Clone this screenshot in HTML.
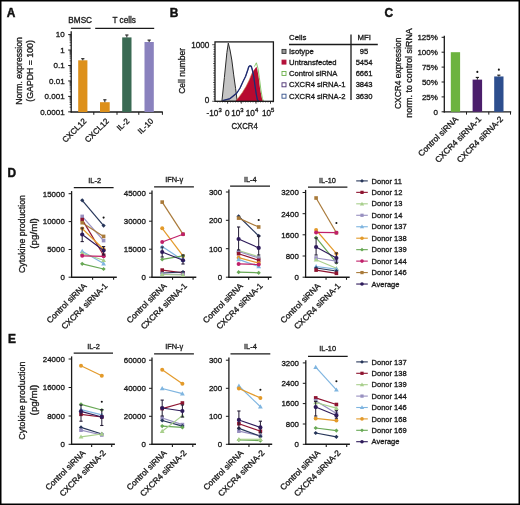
<!DOCTYPE html>
<html><head><meta charset="utf-8"><style>
html,body{margin:0;padding:0;background:#fff;}
body{width:520px;height:505px;overflow:hidden;}
svg{display:block;will-change:transform;}
svg text{font-family:"Liberation Sans",sans-serif;}
</style></head><body>
<svg width="520" height="505" viewBox="0 0 520 505">
<rect x="0" y="0" width="520" height="505" fill="#fff"/>
<text x="6.8" y="17" font-size="11.9" font-weight="bold" fill="#111" stroke="#111" stroke-width="0.45">A</text>
<text x="169.8" y="17" font-size="11.9" font-weight="bold" fill="#111" stroke="#111" stroke-width="0.45">B</text>
<text x="384.5" y="17.1" font-size="11.9" font-weight="bold" fill="#111" stroke="#111" stroke-width="0.45">C</text>
<text x="7.5" y="177" font-size="11.9" font-weight="bold" fill="#111" stroke="#111" stroke-width="0.45">D</text>
<text x="7.9" y="343" font-size="11.9" font-weight="bold" fill="#111" stroke="#111" stroke-width="0.45">E</text>
<line x1="71.2" y1="31.2" x2="71.2" y2="112.6" stroke="#1a1a1a" stroke-width="1.3"/>
<line x1="70.6" y1="112" x2="162.8" y2="112" stroke="#1a1a1a" stroke-width="1.3"/>
<line x1="68.2" y1="34.6" x2="71.2" y2="34.6" stroke="#1a1a1a" stroke-width="1"/>
<line x1="69.6" y1="45.4" x2="71.2" y2="45.4" stroke="#1a1a1a" stroke-width="0.7"/>
<line x1="69.6" y1="42.68" x2="71.2" y2="42.68" stroke="#1a1a1a" stroke-width="0.7"/>
<line x1="69.6" y1="40.75" x2="71.2" y2="40.75" stroke="#1a1a1a" stroke-width="0.7"/>
<line x1="69.6" y1="39.25" x2="71.2" y2="39.25" stroke="#1a1a1a" stroke-width="0.7"/>
<line x1="69.6" y1="38.03" x2="71.2" y2="38.03" stroke="#1a1a1a" stroke-width="0.7"/>
<line x1="69.6" y1="36.99" x2="71.2" y2="36.99" stroke="#1a1a1a" stroke-width="0.7"/>
<line x1="69.6" y1="36.1" x2="71.2" y2="36.1" stroke="#1a1a1a" stroke-width="0.7"/>
<line x1="69.6" y1="35.31" x2="71.2" y2="35.31" stroke="#1a1a1a" stroke-width="0.7"/>
<line x1="68.2" y1="50.05" x2="71.2" y2="50.05" stroke="#1a1a1a" stroke-width="1"/>
<line x1="69.6" y1="60.85" x2="71.2" y2="60.85" stroke="#1a1a1a" stroke-width="0.7"/>
<line x1="69.6" y1="58.13" x2="71.2" y2="58.13" stroke="#1a1a1a" stroke-width="0.7"/>
<line x1="69.6" y1="56.2" x2="71.2" y2="56.2" stroke="#1a1a1a" stroke-width="0.7"/>
<line x1="69.6" y1="54.7" x2="71.2" y2="54.7" stroke="#1a1a1a" stroke-width="0.7"/>
<line x1="69.6" y1="53.48" x2="71.2" y2="53.48" stroke="#1a1a1a" stroke-width="0.7"/>
<line x1="69.6" y1="52.44" x2="71.2" y2="52.44" stroke="#1a1a1a" stroke-width="0.7"/>
<line x1="69.6" y1="51.55" x2="71.2" y2="51.55" stroke="#1a1a1a" stroke-width="0.7"/>
<line x1="69.6" y1="50.76" x2="71.2" y2="50.76" stroke="#1a1a1a" stroke-width="0.7"/>
<line x1="68.2" y1="65.5" x2="71.2" y2="65.5" stroke="#1a1a1a" stroke-width="1"/>
<line x1="69.6" y1="76.3" x2="71.2" y2="76.3" stroke="#1a1a1a" stroke-width="0.7"/>
<line x1="69.6" y1="73.58" x2="71.2" y2="73.58" stroke="#1a1a1a" stroke-width="0.7"/>
<line x1="69.6" y1="71.65" x2="71.2" y2="71.65" stroke="#1a1a1a" stroke-width="0.7"/>
<line x1="69.6" y1="70.15" x2="71.2" y2="70.15" stroke="#1a1a1a" stroke-width="0.7"/>
<line x1="69.6" y1="68.93" x2="71.2" y2="68.93" stroke="#1a1a1a" stroke-width="0.7"/>
<line x1="69.6" y1="67.89" x2="71.2" y2="67.89" stroke="#1a1a1a" stroke-width="0.7"/>
<line x1="69.6" y1="67" x2="71.2" y2="67" stroke="#1a1a1a" stroke-width="0.7"/>
<line x1="69.6" y1="66.21" x2="71.2" y2="66.21" stroke="#1a1a1a" stroke-width="0.7"/>
<line x1="68.2" y1="80.95" x2="71.2" y2="80.95" stroke="#1a1a1a" stroke-width="1"/>
<line x1="69.6" y1="91.75" x2="71.2" y2="91.75" stroke="#1a1a1a" stroke-width="0.7"/>
<line x1="69.6" y1="89.03" x2="71.2" y2="89.03" stroke="#1a1a1a" stroke-width="0.7"/>
<line x1="69.6" y1="87.1" x2="71.2" y2="87.1" stroke="#1a1a1a" stroke-width="0.7"/>
<line x1="69.6" y1="85.6" x2="71.2" y2="85.6" stroke="#1a1a1a" stroke-width="0.7"/>
<line x1="69.6" y1="84.38" x2="71.2" y2="84.38" stroke="#1a1a1a" stroke-width="0.7"/>
<line x1="69.6" y1="83.34" x2="71.2" y2="83.34" stroke="#1a1a1a" stroke-width="0.7"/>
<line x1="69.6" y1="82.45" x2="71.2" y2="82.45" stroke="#1a1a1a" stroke-width="0.7"/>
<line x1="69.6" y1="81.66" x2="71.2" y2="81.66" stroke="#1a1a1a" stroke-width="0.7"/>
<line x1="68.2" y1="96.4" x2="71.2" y2="96.4" stroke="#1a1a1a" stroke-width="1"/>
<line x1="69.6" y1="107.2" x2="71.2" y2="107.2" stroke="#1a1a1a" stroke-width="0.7"/>
<line x1="69.6" y1="104.48" x2="71.2" y2="104.48" stroke="#1a1a1a" stroke-width="0.7"/>
<line x1="69.6" y1="102.55" x2="71.2" y2="102.55" stroke="#1a1a1a" stroke-width="0.7"/>
<line x1="69.6" y1="101.05" x2="71.2" y2="101.05" stroke="#1a1a1a" stroke-width="0.7"/>
<line x1="69.6" y1="99.83" x2="71.2" y2="99.83" stroke="#1a1a1a" stroke-width="0.7"/>
<line x1="69.6" y1="98.79" x2="71.2" y2="98.79" stroke="#1a1a1a" stroke-width="0.7"/>
<line x1="69.6" y1="97.9" x2="71.2" y2="97.9" stroke="#1a1a1a" stroke-width="0.7"/>
<line x1="69.6" y1="97.11" x2="71.2" y2="97.11" stroke="#1a1a1a" stroke-width="0.7"/>
<line x1="68.2" y1="111.85" x2="71.2" y2="111.85" stroke="#1a1a1a" stroke-width="1"/>
<text x="64.6" y="37.4" font-size="8.0" text-anchor="end" fill="#1a1a1a" stroke="#1a1a1a" stroke-width="0.32">10</text>
<text x="64.6" y="52.85" font-size="8.0" text-anchor="end" fill="#1a1a1a" stroke="#1a1a1a" stroke-width="0.32">1</text>
<text x="64.6" y="68.3" font-size="8.0" text-anchor="end" fill="#1a1a1a" stroke="#1a1a1a" stroke-width="0.32">0.1</text>
<text x="64.6" y="83.75" font-size="8.0" text-anchor="end" fill="#1a1a1a" stroke="#1a1a1a" stroke-width="0.32">0.01</text>
<text x="64.6" y="99.2" font-size="8.0" text-anchor="end" fill="#1a1a1a" stroke="#1a1a1a" stroke-width="0.32">0.001</text>
<text x="64.6" y="114.65" font-size="8.0" text-anchor="end" fill="#1a1a1a" stroke="#1a1a1a" stroke-width="0.32">0.0001</text>
<line x1="93.8" y1="112" x2="93.8" y2="114.8" stroke="#1a1a1a" stroke-width="1"/>
<line x1="117" y1="112" x2="117" y2="114.8" stroke="#1a1a1a" stroke-width="1"/>
<line x1="138.8" y1="112" x2="138.8" y2="114.8" stroke="#1a1a1a" stroke-width="1"/>
<line x1="162.4" y1="112" x2="162.4" y2="114.8" stroke="#1a1a1a" stroke-width="1"/>
<rect x="78.2" y="60.3" width="9.2" height="51.7" fill="#DD901A"/>
<line x1="82.8" y1="60.3" x2="82.8" y2="58.7" stroke="#1a1a1a" stroke-width="1"/>
<line x1="81.2" y1="58.7" x2="84.4" y2="58.7" stroke="#1a1a1a" stroke-width="1.1"/>
<rect x="100" y="102.2" width="9.7" height="9.8" fill="#DD901A"/>
<line x1="104.85" y1="102.2" x2="104.85" y2="99.8" stroke="#1a1a1a" stroke-width="1"/>
<line x1="103.25" y1="99.8" x2="106.45" y2="99.8" stroke="#1a1a1a" stroke-width="1.1"/>
<rect x="122.2" y="37.4" width="9.3" height="74.6" fill="#3A6A53"/>
<line x1="126.85" y1="37.4" x2="126.85" y2="35" stroke="#1a1a1a" stroke-width="1"/>
<line x1="125.25" y1="35" x2="128.45" y2="35" stroke="#1a1a1a" stroke-width="1.1"/>
<rect x="144.5" y="42" width="9.3" height="70" fill="#8A82BE"/>
<line x1="149.15" y1="42" x2="149.15" y2="40.1" stroke="#1a1a1a" stroke-width="1"/>
<line x1="147.55" y1="40.1" x2="150.75" y2="40.1" stroke="#1a1a1a" stroke-width="1.1"/>
<text x="80.2" y="23.3" font-size="8.2" text-anchor="middle" fill="#1a1a1a" stroke="#1a1a1a" stroke-width="0.32">BMSC</text>
<text x="124.2" y="23.3" font-size="8.2" text-anchor="middle" fill="#1a1a1a" stroke="#1a1a1a" stroke-width="0.32">T cells</text>
<line x1="70.9" y1="28.3" x2="90.6" y2="28.3" stroke="#1a1a1a" stroke-width="1.2"/>
<line x1="95.2" y1="28.3" x2="154.2" y2="28.3" stroke="#1a1a1a" stroke-width="1.2"/>
<text transform="translate(87,121.6) rotate(-45)" font-size="8.0" text-anchor="end" fill="#1a1a1a" stroke="#1a1a1a" stroke-width="0.32">CXCL12</text>
<text transform="translate(109.5,121.6) rotate(-45)" font-size="8.0" text-anchor="end" fill="#1a1a1a" stroke="#1a1a1a" stroke-width="0.32">CXCL12</text>
<text transform="translate(129.8,121.6) rotate(-45)" font-size="8.0" text-anchor="end" fill="#1a1a1a" stroke="#1a1a1a" stroke-width="0.32">IL-2</text>
<text transform="translate(154,121.6) rotate(-45)" font-size="8.0" text-anchor="end" fill="#1a1a1a" stroke="#1a1a1a" stroke-width="0.32">IL-10</text>
<text transform="translate(22.2,70.9) rotate(-90)" font-size="8.9" text-anchor="middle" fill="#1a1a1a" stroke="#1a1a1a" stroke-width="0.32" textLength="67.5" lengthAdjust="spacingAndGlyphs">Norm. expression</text>
<text transform="translate(33.4,70.9) rotate(-90)" font-size="8.9" text-anchor="middle" fill="#1a1a1a" stroke="#1a1a1a" stroke-width="0.32" textLength="61.5" lengthAdjust="spacingAndGlyphs">(GAPDH = 100)</text>
<path d="M221.9 101.3 L224.4 77.4 L226.9 52.5 L228.3 43.1 L230 50 L231.8 60 L233.7 74.9 L235.6 88.6 L237.2 101.3 Z" fill="#C4C4C4" stroke="#2a2a2a" stroke-width="1.0" stroke-linejoin="round"/>
<path d="M235.4 101.3 L238.7 97.4 L242.4 92.4 L246.2 86.2 L249.3 79.9 L251.8 73.7 L253.7 70.6 L255.5 68.1 L256.5 66.8 L257.4 69.9 L258.7 77.4 L259.9 87.4 L261.2 94.9 L262.4 99.9 L263 101.3 Z" fill="#B70A30"/>
<path d="M236.5 100 L238.7 97.4 L242.4 92.4 L246.2 86.2 L249.3 79.9 L251.8 73.7 L253.7 70.6" fill="none" stroke="#C8743A" stroke-width="0.8" opacity="0.75"/>
<path d="M254.4 66.6 L255.6 64.2 L256.4 62.8 L258 68.7 L259.3 77.4 L260.9 89.9 L262.4 98.6 L263.6 101.3" fill="none" stroke="#7CC05A" stroke-width="0.9" stroke-linejoin="round"/>
<path d="M222.5 100.8 L230 98.9 L233.7 96 L236.8 93.4 L240 88.4 L243.1 81.6 L245.6 76.6 L247.7 70.6 L248.7 67.4 L249.9 66.4 L251.4 67 L252.4 70.4 L253.7 76.6 L254.9 85.3 L256.2 94 L257.4 100.2 L258.7 101.3" fill="none" stroke="#4A3580" stroke-width="0.8" stroke-linejoin="round"/>
<path d="M222.5 100.5 L230 98.6 L233.7 95.5 L236.8 93 L240 88 L243.1 81.2 L245.6 76.2 L247.7 70 L248.7 66.8 L249.9 65.6 L251.4 66.4 L252.4 70 L253.7 76.2 L254.9 84.9 L256.2 93.6 L257.4 99.9 L258.7 101.1" fill="none" stroke="#1C2C70" stroke-width="1.25" stroke-linejoin="round"/>
<rect x="215.0" y="41.9" width="58.4" height="59.4" fill="none" stroke="#1a1a1a" stroke-width="1.3"/>
<line x1="212.2" y1="101.3" x2="215" y2="101.3" stroke="#1a1a1a" stroke-width="0.7"/>
<line x1="213.5" y1="98.94" x2="215" y2="98.94" stroke="#1a1a1a" stroke-width="0.7"/>
<line x1="213.5" y1="96.58" x2="215" y2="96.58" stroke="#1a1a1a" stroke-width="0.7"/>
<line x1="213.5" y1="94.22" x2="215" y2="94.22" stroke="#1a1a1a" stroke-width="0.7"/>
<line x1="213" y1="91.87" x2="215" y2="91.87" stroke="#1a1a1a" stroke-width="0.7"/>
<line x1="213.5" y1="89.51" x2="215" y2="89.51" stroke="#1a1a1a" stroke-width="0.7"/>
<line x1="213.5" y1="87.15" x2="215" y2="87.15" stroke="#1a1a1a" stroke-width="0.7"/>
<line x1="213.5" y1="84.79" x2="215" y2="84.79" stroke="#1a1a1a" stroke-width="0.7"/>
<line x1="213" y1="82.43" x2="215" y2="82.43" stroke="#1a1a1a" stroke-width="0.7"/>
<line x1="213.5" y1="80.07" x2="215" y2="80.07" stroke="#1a1a1a" stroke-width="0.7"/>
<line x1="213.5" y1="77.72" x2="215" y2="77.72" stroke="#1a1a1a" stroke-width="0.7"/>
<line x1="213.5" y1="75.36" x2="215" y2="75.36" stroke="#1a1a1a" stroke-width="0.7"/>
<line x1="213" y1="73" x2="215" y2="73" stroke="#1a1a1a" stroke-width="0.7"/>
<line x1="213.5" y1="70.64" x2="215" y2="70.64" stroke="#1a1a1a" stroke-width="0.7"/>
<line x1="213.5" y1="68.28" x2="215" y2="68.28" stroke="#1a1a1a" stroke-width="0.7"/>
<line x1="213.5" y1="65.92" x2="215" y2="65.92" stroke="#1a1a1a" stroke-width="0.7"/>
<line x1="213" y1="63.57" x2="215" y2="63.57" stroke="#1a1a1a" stroke-width="0.7"/>
<line x1="213.5" y1="61.21" x2="215" y2="61.21" stroke="#1a1a1a" stroke-width="0.7"/>
<line x1="213.5" y1="58.85" x2="215" y2="58.85" stroke="#1a1a1a" stroke-width="0.7"/>
<line x1="213.5" y1="56.49" x2="215" y2="56.49" stroke="#1a1a1a" stroke-width="0.7"/>
<line x1="213" y1="54.13" x2="215" y2="54.13" stroke="#1a1a1a" stroke-width="0.7"/>
<line x1="213.5" y1="51.77" x2="215" y2="51.77" stroke="#1a1a1a" stroke-width="0.7"/>
<line x1="213.5" y1="49.42" x2="215" y2="49.42" stroke="#1a1a1a" stroke-width="0.7"/>
<line x1="213.5" y1="47.06" x2="215" y2="47.06" stroke="#1a1a1a" stroke-width="0.7"/>
<line x1="212.2" y1="44.7" x2="215" y2="44.7" stroke="#1a1a1a" stroke-width="0.7"/>
<text x="209.4" y="47.5" font-size="8.2" text-anchor="end" fill="#1a1a1a" stroke="#1a1a1a" stroke-width="0.32">1000</text>
<text x="209.4" y="103.4" font-size="8.2" text-anchor="end" fill="#1a1a1a" stroke="#1a1a1a" stroke-width="0.32">0</text>
<line x1="217.5" y1="101.3" x2="217.5" y2="102.5" stroke="#1a1a1a" stroke-width="0.6"/>
<line x1="220" y1="101.3" x2="220" y2="102.5" stroke="#1a1a1a" stroke-width="0.6"/>
<line x1="222.5" y1="101.3" x2="222.5" y2="102.5" stroke="#1a1a1a" stroke-width="0.6"/>
<line x1="225" y1="101.3" x2="225" y2="102.5" stroke="#1a1a1a" stroke-width="0.6"/>
<line x1="227.6" y1="101.3" x2="227.6" y2="102.5" stroke="#1a1a1a" stroke-width="0.6"/>
<line x1="230.5" y1="101.3" x2="230.5" y2="102.5" stroke="#1a1a1a" stroke-width="0.6"/>
<line x1="233" y1="101.3" x2="233" y2="102.5" stroke="#1a1a1a" stroke-width="0.6"/>
<line x1="235.5" y1="101.3" x2="235.5" y2="102.5" stroke="#1a1a1a" stroke-width="0.6"/>
<line x1="238" y1="101.3" x2="238" y2="102.5" stroke="#1a1a1a" stroke-width="0.6"/>
<line x1="240.5" y1="101.3" x2="240.5" y2="102.5" stroke="#1a1a1a" stroke-width="0.6"/>
<line x1="243" y1="101.3" x2="243" y2="102.5" stroke="#1a1a1a" stroke-width="0.6"/>
<line x1="245.6" y1="101.3" x2="245.6" y2="102.5" stroke="#1a1a1a" stroke-width="0.6"/>
<line x1="248" y1="101.3" x2="248" y2="102.5" stroke="#1a1a1a" stroke-width="0.6"/>
<line x1="250.5" y1="101.3" x2="250.5" y2="102.5" stroke="#1a1a1a" stroke-width="0.6"/>
<line x1="253" y1="101.3" x2="253" y2="102.5" stroke="#1a1a1a" stroke-width="0.6"/>
<line x1="255.6" y1="101.3" x2="255.6" y2="102.5" stroke="#1a1a1a" stroke-width="0.6"/>
<line x1="258" y1="101.3" x2="258" y2="102.5" stroke="#1a1a1a" stroke-width="0.6"/>
<line x1="260.5" y1="101.3" x2="260.5" y2="102.5" stroke="#1a1a1a" stroke-width="0.6"/>
<line x1="263" y1="101.3" x2="263" y2="102.5" stroke="#1a1a1a" stroke-width="0.6"/>
<line x1="265.6" y1="101.3" x2="265.6" y2="102.5" stroke="#1a1a1a" stroke-width="0.6"/>
<line x1="268" y1="101.3" x2="268" y2="102.5" stroke="#1a1a1a" stroke-width="0.6"/>
<line x1="270.5" y1="101.3" x2="270.5" y2="102.5" stroke="#1a1a1a" stroke-width="0.6"/>
<line x1="273" y1="101.3" x2="273" y2="102.5" stroke="#1a1a1a" stroke-width="0.6"/>
<line x1="227.6" y1="101.3" x2="227.6" y2="103.7" stroke="#1a1a1a" stroke-width="0.8"/>
<line x1="241.3" y1="101.3" x2="241.3" y2="103.7" stroke="#1a1a1a" stroke-width="0.8"/>
<line x1="256" y1="101.3" x2="256" y2="103.7" stroke="#1a1a1a" stroke-width="0.8"/>
<line x1="270.5" y1="101.3" x2="270.5" y2="103.7" stroke="#1a1a1a" stroke-width="0.8"/>
<text x="206.6" y="115.8" font-size="8.2" fill="#1a1a1a" stroke="#1a1a1a" stroke-width="0.32">-10<tspan font-size="5.90" dy="-3.4">3</tspan></text>
<text x="225" y="115.8" font-size="8.2" fill="#1a1a1a" stroke="#1a1a1a" stroke-width="0.32">0</text>
<text x="231.2" y="115.8" font-size="8.2" fill="#1a1a1a" stroke="#1a1a1a" stroke-width="0.32">10<tspan font-size="5.90" dy="-3.4">3</tspan></text>
<text x="245.8" y="115.8" font-size="8.2" fill="#1a1a1a" stroke="#1a1a1a" stroke-width="0.32">10<tspan font-size="5.90" dy="-3.4">4</tspan></text>
<text x="262" y="115.8" font-size="8.2" fill="#1a1a1a" stroke="#1a1a1a" stroke-width="0.32">10<tspan font-size="5.90" dy="-3.4">5</tspan></text>
<text x="244.6" y="129" font-size="9.2" text-anchor="middle" fill="#1a1a1a" stroke="#1a1a1a" stroke-width="0.32" textLength="26.4" lengthAdjust="spacingAndGlyphs">CXCR4</text>
<text transform="translate(185.4,70.8) rotate(-90)" font-size="8.6" text-anchor="middle" fill="#1a1a1a" stroke="#1a1a1a" stroke-width="0.32" textLength="46" lengthAdjust="spacingAndGlyphs">Cell number</text>
<text x="289" y="39.8" font-size="7.8" fill="#1a1a1a" stroke="#1a1a1a" stroke-width="0.32">Cells</text>
<text x="364.2" y="39.8" font-size="7.8" text-anchor="middle" fill="#1a1a1a" stroke="#1a1a1a" stroke-width="0.32">MFI</text>
<line x1="289" y1="44.5" x2="377.8" y2="44.5" stroke="#1a1a1a" stroke-width="1.3"/>
<line x1="351" y1="34.5" x2="351" y2="100" stroke="#1a1a1a" stroke-width="1.3"/>
<rect x="282" y="49.4" width="4" height="4" fill="#9a9a9a" stroke="#333" stroke-width="0.9"/>
<text x="289" y="53.8" font-size="7.65" fill="#1a1a1a" stroke="#1a1a1a" stroke-width="0.32">Isotype</text>
<text x="364.1" y="53.8" font-size="7.6" text-anchor="middle" fill="#1a1a1a" stroke="#1a1a1a" stroke-width="0.32">95</text>
<rect x="282" y="60.1" width="4" height="4" fill="#B4103A" stroke="#B4103A" stroke-width="0.9"/>
<text x="289" y="64.5" font-size="7.65" fill="#1a1a1a" stroke="#1a1a1a" stroke-width="0.32">Untransfected</text>
<text x="364.1" y="64.5" font-size="7.6" text-anchor="middle" fill="#1a1a1a" stroke="#1a1a1a" stroke-width="0.32">5454</text>
<rect x="282" y="71.5" width="4" height="4" fill="#fff" stroke="#6DB04A" stroke-width="0.9"/>
<text x="289" y="75.9" font-size="7.65" fill="#1a1a1a" stroke="#1a1a1a" stroke-width="0.32">Control siRNA</text>
<text x="364.1" y="75.9" font-size="7.6" text-anchor="middle" fill="#1a1a1a" stroke="#1a1a1a" stroke-width="0.32">6661</text>
<rect x="282" y="82.8" width="4" height="4" fill="#fff" stroke="#4A2E70" stroke-width="0.9"/>
<text x="289" y="87.2" font-size="7.65" fill="#1a1a1a" stroke="#1a1a1a" stroke-width="0.32">CXCR4 siRNA-1</text>
<text x="364.1" y="87.2" font-size="7.6" text-anchor="middle" fill="#1a1a1a" stroke="#1a1a1a" stroke-width="0.32">3843</text>
<rect x="282" y="94.2" width="4" height="4" fill="#fff" stroke="#34508A" stroke-width="0.9"/>
<text x="289" y="98.6" font-size="7.65" fill="#1a1a1a" stroke="#1a1a1a" stroke-width="0.32">CXCR4 siRNA-2</text>
<text x="364.1" y="98.6" font-size="7.6" text-anchor="middle" fill="#1a1a1a" stroke="#1a1a1a" stroke-width="0.32">3630</text>
<line x1="444.3" y1="35.8" x2="444.3" y2="112.4" stroke="#1a1a1a" stroke-width="1.3"/>
<line x1="443.7" y1="111.8" x2="511.2" y2="111.8" stroke="#1a1a1a" stroke-width="1.3"/>
<line x1="441.6" y1="37.3" x2="444.3" y2="37.3" stroke="#1a1a1a" stroke-width="1"/>
<text x="437.9" y="40.1" font-size="8.0" text-anchor="end" fill="#1a1a1a" stroke="#1a1a1a" stroke-width="0.32">125%</text>
<line x1="441.6" y1="52.2" x2="444.3" y2="52.2" stroke="#1a1a1a" stroke-width="1"/>
<text x="437.9" y="55" font-size="8.0" text-anchor="end" fill="#1a1a1a" stroke="#1a1a1a" stroke-width="0.32">100%</text>
<line x1="441.6" y1="67.1" x2="444.3" y2="67.1" stroke="#1a1a1a" stroke-width="1"/>
<text x="437.9" y="69.9" font-size="8.0" text-anchor="end" fill="#1a1a1a" stroke="#1a1a1a" stroke-width="0.32">75%</text>
<line x1="441.6" y1="82" x2="444.3" y2="82" stroke="#1a1a1a" stroke-width="1"/>
<text x="437.9" y="84.8" font-size="8.0" text-anchor="end" fill="#1a1a1a" stroke="#1a1a1a" stroke-width="0.32">50%</text>
<line x1="441.6" y1="96.9" x2="444.3" y2="96.9" stroke="#1a1a1a" stroke-width="1"/>
<text x="437.9" y="99.7" font-size="8.0" text-anchor="end" fill="#1a1a1a" stroke="#1a1a1a" stroke-width="0.32">25%</text>
<line x1="441.6" y1="111.8" x2="444.3" y2="111.8" stroke="#1a1a1a" stroke-width="1"/>
<text x="437.9" y="114.6" font-size="8.0" text-anchor="end" fill="#1a1a1a" stroke="#1a1a1a" stroke-width="0.32">0</text>
<line x1="466.5" y1="111.8" x2="466.5" y2="114.6" stroke="#1a1a1a" stroke-width="1"/>
<line x1="488.8" y1="111.8" x2="488.8" y2="114.6" stroke="#1a1a1a" stroke-width="1"/>
<line x1="510.5" y1="111.8" x2="510.5" y2="114.6" stroke="#1a1a1a" stroke-width="1"/>
<rect x="450.8" y="52.2" width="9.3" height="59.6" fill="#6DB33F"/>
<rect x="472.6" y="79.62" width="9.5" height="32.18" fill="#4B1E6B"/>
<line x1="477.35" y1="79.62" x2="477.35" y2="77.42" stroke="#1a1a1a" stroke-width="1"/>
<line x1="475.75" y1="77.42" x2="478.95" y2="77.42" stroke="#1a1a1a" stroke-width="1.1"/>
<circle cx="477.35" cy="71.92" r="1.05" fill="#111"/>
<rect x="494.2" y="76.46" width="9.3" height="35.34" fill="#2D4E8E"/>
<line x1="498.85" y1="76.46" x2="498.85" y2="75.16" stroke="#1a1a1a" stroke-width="1"/>
<line x1="497.25" y1="75.16" x2="500.45" y2="75.16" stroke="#1a1a1a" stroke-width="1.1"/>
<circle cx="498.85" cy="69.66" r="1.05" fill="#111"/>
<text transform="translate(458.6,119.8) rotate(-45)" font-size="8.3" text-anchor="end" fill="#1a1a1a" stroke="#1a1a1a" stroke-width="0.32">Control siRNA</text>
<text transform="translate(481.8,119.8) rotate(-45)" font-size="8.3" text-anchor="end" fill="#1a1a1a" stroke="#1a1a1a" stroke-width="0.32">CXCR4 siRNA-1</text>
<text transform="translate(503.6,119.8) rotate(-45)" font-size="8.3" text-anchor="end" fill="#1a1a1a" stroke="#1a1a1a" stroke-width="0.32">CXCR4 siRNA-2</text>
<text transform="translate(400.6,73.3) rotate(-90)" font-size="8.6" text-anchor="middle" fill="#1a1a1a" stroke="#1a1a1a" stroke-width="0.32" textLength="71.5" lengthAdjust="spacingAndGlyphs">CXCR4 expression</text>
<text transform="translate(411.6,73) rotate(-90)" font-size="8.6" text-anchor="middle" fill="#1a1a1a" stroke="#1a1a1a" stroke-width="0.32" textLength="89.5" lengthAdjust="spacingAndGlyphs">norm. to control siRNA</text>
<line x1="71.6" y1="191.1" x2="71.6" y2="277.8" stroke="#1a1a1a" stroke-width="1.3"/>
<line x1="71" y1="277.2" x2="116.8" y2="277.2" stroke="#1a1a1a" stroke-width="1.4"/>
<line x1="68.6" y1="193.7" x2="71.6" y2="193.7" stroke="#1a1a1a" stroke-width="1"/>
<text x="64.8" y="196.5" font-size="7.9" text-anchor="end" fill="#1a1a1a" stroke="#1a1a1a" stroke-width="0.32">15000</text>
<line x1="68.6" y1="221.6" x2="71.6" y2="221.6" stroke="#1a1a1a" stroke-width="1"/>
<text x="64.8" y="224.4" font-size="7.9" text-anchor="end" fill="#1a1a1a" stroke="#1a1a1a" stroke-width="0.32">10000</text>
<line x1="68.6" y1="249.5" x2="71.6" y2="249.5" stroke="#1a1a1a" stroke-width="1"/>
<text x="64.8" y="252.3" font-size="7.9" text-anchor="end" fill="#1a1a1a" stroke="#1a1a1a" stroke-width="0.32">5000</text>
<line x1="68.6" y1="277.2" x2="71.6" y2="277.2" stroke="#1a1a1a" stroke-width="1"/>
<text x="64.8" y="280" font-size="7.9" text-anchor="end" fill="#1a1a1a" stroke="#1a1a1a" stroke-width="0.32">0</text>
<line x1="92.6" y1="277.2" x2="92.6" y2="279.8" stroke="#1a1a1a" stroke-width="1.1"/>
<line x1="113.6" y1="277.2" x2="113.6" y2="279.8" stroke="#1a1a1a" stroke-width="1.1"/>
<text x="94.65" y="183" font-size="7.4" text-anchor="middle" fill="#1a1a1a" stroke="#1a1a1a" stroke-width="0.32">IL-2</text>
<line x1="73.8" y1="187.7" x2="113.6" y2="187.7" stroke="#1a1a1a" stroke-width="1.3"/>
<line x1="82.2" y1="200.3" x2="103.6" y2="225.6" stroke="#27365A" stroke-width="1.2"/>
<line x1="82.2" y1="216.4" x2="103.6" y2="240.6" stroke="#9890C0" stroke-width="1.2"/>
<line x1="82.2" y1="219.6" x2="103.6" y2="255.2" stroke="#8E1430" stroke-width="1.2"/>
<line x1="82.2" y1="222.7" x2="103.6" y2="236.4" stroke="#A97A3A" stroke-width="1.2"/>
<line x1="82.2" y1="228.5" x2="103.6" y2="249.2" stroke="#E39A2A" stroke-width="1.2"/>
<line x1="82.2" y1="251.2" x2="103.6" y2="263.6" stroke="#7FB5E0" stroke-width="1.2"/>
<line x1="82.2" y1="253.2" x2="103.6" y2="260.3" stroke="#A8CF8C" stroke-width="1.2"/>
<line x1="82.2" y1="255.8" x2="103.6" y2="256.3" stroke="#C0206A" stroke-width="1.2"/>
<line x1="82.2" y1="263.8" x2="103.6" y2="269" stroke="#68A855" stroke-width="1.2"/>
<path d="M82.2 198.2L84.3 200.3L82.2 202.4L80.1 200.3Z" fill="#27365A"/>
<path d="M103.6 223.5L105.7 225.6L103.6 227.7L101.5 225.6Z" fill="#27365A"/>
<rect x="80.4" y="214.6" width="3.6" height="3.6" fill="#9890C0"/>
<rect x="101.8" y="238.8" width="3.6" height="3.6" fill="#9890C0"/>
<rect x="80.4" y="217.8" width="3.6" height="3.6" fill="#8E1430"/>
<rect x="101.8" y="253.4" width="3.6" height="3.6" fill="#8E1430"/>
<rect x="80.4" y="220.9" width="3.6" height="3.6" fill="#A97A3A"/>
<rect x="101.8" y="234.6" width="3.6" height="3.6" fill="#A97A3A"/>
<circle cx="82.2" cy="228.5" r="2" fill="#E39A2A"/>
<circle cx="103.6" cy="249.2" r="2" fill="#E39A2A"/>
<path d="M82.2 248.8L84.6 253L79.8 253Z" fill="#7FB5E0"/>
<path d="M103.6 261.2L106 265.4L101.2 265.4Z" fill="#7FB5E0"/>
<path d="M82.2 250.8L84.6 255L79.8 255Z" fill="#A8CF8C"/>
<path d="M103.6 257.9L106 262.1L101.2 262.1Z" fill="#A8CF8C"/>
<circle cx="82.2" cy="255.8" r="2" fill="#C0206A"/>
<circle cx="103.6" cy="256.3" r="2" fill="#C0206A"/>
<path d="M82.2 261.7L84.3 263.8L82.2 265.9L80.1 263.8Z" fill="#68A855"/>
<path d="M103.6 266.9L105.7 269L103.6 271.1L101.5 269Z" fill="#68A855"/>
<line x1="82.2" y1="234.5" x2="103.6" y2="250.5" stroke="#2E1B5A" stroke-width="1.1"/>
<line x1="82.2" y1="228" x2="82.2" y2="241.6" stroke="#221a33" stroke-width="1.0"/>
<line x1="80.6" y1="228" x2="83.8" y2="228" stroke="#221a33" stroke-width="1.1"/>
<line x1="80.6" y1="241.6" x2="83.8" y2="241.6" stroke="#221a33" stroke-width="1.1"/>
<line x1="103.6" y1="246.6" x2="103.6" y2="255" stroke="#221a33" stroke-width="1.0"/>
<line x1="102" y1="246.6" x2="105.2" y2="246.6" stroke="#221a33" stroke-width="1.1"/>
<line x1="102" y1="255" x2="105.2" y2="255" stroke="#221a33" stroke-width="1.1"/>
<circle cx="82.2" cy="234.5" r="2.1" fill="#2E1B5A"/>
<circle cx="103.6" cy="250.5" r="2.1" fill="#2E1B5A"/>
<circle cx="103.6" cy="217.6" r="1.05" fill="#111"/>
<text transform="translate(87.1,286.5) rotate(-45)" font-size="8.3" text-anchor="end" fill="#1a1a1a" stroke="#1a1a1a" stroke-width="0.32">Control siRNA</text>
<text transform="translate(108.1,286.5) rotate(-45)" font-size="8.3" text-anchor="end" fill="#1a1a1a" stroke="#1a1a1a" stroke-width="0.32">CXCR4 siRNA-1</text>
<line x1="152" y1="190.6" x2="152" y2="277.8" stroke="#1a1a1a" stroke-width="1.3"/>
<line x1="151.4" y1="277.2" x2="196.3" y2="277.2" stroke="#1a1a1a" stroke-width="1.4"/>
<line x1="149" y1="193.2" x2="152" y2="193.2" stroke="#1a1a1a" stroke-width="1"/>
<text x="145.8" y="196" font-size="7.9" text-anchor="end" fill="#1a1a1a" stroke="#1a1a1a" stroke-width="0.32">45000</text>
<line x1="149" y1="221.2" x2="152" y2="221.2" stroke="#1a1a1a" stroke-width="1"/>
<text x="145.8" y="224" font-size="7.9" text-anchor="end" fill="#1a1a1a" stroke="#1a1a1a" stroke-width="0.32">30000</text>
<line x1="149" y1="249.2" x2="152" y2="249.2" stroke="#1a1a1a" stroke-width="1"/>
<text x="145.8" y="252" font-size="7.9" text-anchor="end" fill="#1a1a1a" stroke="#1a1a1a" stroke-width="0.32">15000</text>
<line x1="149" y1="277.2" x2="152" y2="277.2" stroke="#1a1a1a" stroke-width="1"/>
<text x="145.8" y="280" font-size="7.9" text-anchor="end" fill="#1a1a1a" stroke="#1a1a1a" stroke-width="0.32">0</text>
<line x1="172.55" y1="277.2" x2="172.55" y2="279.8" stroke="#1a1a1a" stroke-width="1.1"/>
<line x1="193.1" y1="277.2" x2="193.1" y2="279.8" stroke="#1a1a1a" stroke-width="1.1"/>
<text x="174.2" y="181.5" font-size="7.4" text-anchor="middle" fill="#1a1a1a" stroke="#1a1a1a" stroke-width="0.32">IFN-&#947;</text>
<line x1="154.1" y1="186.8" x2="193.9" y2="186.8" stroke="#1a1a1a" stroke-width="1.3"/>
<line x1="162.2" y1="202.1" x2="183" y2="234.2" stroke="#A97A3A" stroke-width="1.2"/>
<line x1="162.2" y1="228.3" x2="183" y2="255.9" stroke="#E39A2A" stroke-width="1.2"/>
<line x1="162.2" y1="242" x2="183" y2="234.2" stroke="#C0206A" stroke-width="1.2"/>
<line x1="162.2" y1="246.6" x2="183" y2="260.3" stroke="#7FB5E0" stroke-width="1.2"/>
<line x1="162.2" y1="259.4" x2="183" y2="255.9" stroke="#68A855" stroke-width="1.2"/>
<line x1="162.2" y1="270.1" x2="183" y2="272.8" stroke="#8E1430" stroke-width="1.2"/>
<line x1="162.2" y1="273" x2="183" y2="272" stroke="#27365A" stroke-width="1.2"/>
<line x1="162.2" y1="274" x2="183" y2="274.5" stroke="#9890C0" stroke-width="1.2"/>
<line x1="162.2" y1="274.5" x2="183" y2="275" stroke="#A8CF8C" stroke-width="1.2"/>
<rect x="160.4" y="200.3" width="3.6" height="3.6" fill="#A97A3A"/>
<rect x="181.2" y="232.4" width="3.6" height="3.6" fill="#A97A3A"/>
<circle cx="162.2" cy="228.3" r="2" fill="#E39A2A"/>
<circle cx="183" cy="255.9" r="2" fill="#E39A2A"/>
<circle cx="162.2" cy="242" r="2" fill="#C0206A"/>
<circle cx="183" cy="234.2" r="2" fill="#C0206A"/>
<path d="M162.2 244.2L164.6 248.4L159.8 248.4Z" fill="#7FB5E0"/>
<path d="M183 257.9L185.4 262.1L180.6 262.1Z" fill="#7FB5E0"/>
<path d="M162.2 257.3L164.3 259.4L162.2 261.5L160.1 259.4Z" fill="#68A855"/>
<path d="M183 253.8L185.1 255.9L183 258L180.9 255.9Z" fill="#68A855"/>
<rect x="160.4" y="268.3" width="3.6" height="3.6" fill="#8E1430"/>
<rect x="181.2" y="271" width="3.6" height="3.6" fill="#8E1430"/>
<path d="M162.2 270.9L164.3 273L162.2 275.1L160.1 273Z" fill="#27365A"/>
<path d="M183 269.9L185.1 272L183 274.1L180.9 272Z" fill="#27365A"/>
<rect x="160.4" y="272.2" width="3.6" height="3.6" fill="#9890C0"/>
<rect x="181.2" y="272.7" width="3.6" height="3.6" fill="#9890C0"/>
<path d="M162.2 272.1L164.6 276.3L159.8 276.3Z" fill="#A8CF8C"/>
<path d="M183 272.6L185.4 276.8L180.6 276.8Z" fill="#A8CF8C"/>
<line x1="162.2" y1="252" x2="183" y2="260.3" stroke="#2E1B5A" stroke-width="1.1"/>
<line x1="162.2" y1="247" x2="162.2" y2="257" stroke="#221a33" stroke-width="1.0"/>
<line x1="160.6" y1="247" x2="163.8" y2="247" stroke="#221a33" stroke-width="1.1"/>
<line x1="160.6" y1="257" x2="163.8" y2="257" stroke="#221a33" stroke-width="1.1"/>
<line x1="183" y1="255" x2="183" y2="264" stroke="#221a33" stroke-width="1.0"/>
<line x1="181.4" y1="255" x2="184.6" y2="255" stroke="#221a33" stroke-width="1.1"/>
<line x1="181.4" y1="264" x2="184.6" y2="264" stroke="#221a33" stroke-width="1.1"/>
<circle cx="162.2" cy="252" r="2.1" fill="#2E1B5A"/>
<circle cx="183" cy="260.3" r="2.1" fill="#2E1B5A"/>
<text transform="translate(167.1,286.5) rotate(-45)" font-size="8.3" text-anchor="end" fill="#1a1a1a" stroke="#1a1a1a" stroke-width="0.32">Control siRNA</text>
<text transform="translate(187.5,286.5) rotate(-45)" font-size="8.3" text-anchor="end" fill="#1a1a1a" stroke="#1a1a1a" stroke-width="0.32">CXCR4 siRNA-1</text>
<line x1="228.9" y1="189.4" x2="228.9" y2="277.8" stroke="#1a1a1a" stroke-width="1.3"/>
<line x1="228.3" y1="277.2" x2="271.6" y2="277.2" stroke="#1a1a1a" stroke-width="1.4"/>
<line x1="225.9" y1="192" x2="228.9" y2="192" stroke="#1a1a1a" stroke-width="1"/>
<text x="222.1" y="194.8" font-size="7.9" text-anchor="end" fill="#1a1a1a" stroke="#1a1a1a" stroke-width="0.32">300</text>
<line x1="225.9" y1="220.3" x2="228.9" y2="220.3" stroke="#1a1a1a" stroke-width="1"/>
<text x="222.1" y="223.1" font-size="7.9" text-anchor="end" fill="#1a1a1a" stroke="#1a1a1a" stroke-width="0.32">200</text>
<line x1="225.9" y1="248.7" x2="228.9" y2="248.7" stroke="#1a1a1a" stroke-width="1"/>
<text x="222.1" y="251.5" font-size="7.9" text-anchor="end" fill="#1a1a1a" stroke="#1a1a1a" stroke-width="0.32">100</text>
<line x1="225.9" y1="277.2" x2="228.9" y2="277.2" stroke="#1a1a1a" stroke-width="1"/>
<text x="222.1" y="280" font-size="7.9" text-anchor="end" fill="#1a1a1a" stroke="#1a1a1a" stroke-width="0.32">0</text>
<line x1="248.65" y1="277.2" x2="248.65" y2="279.8" stroke="#1a1a1a" stroke-width="1.1"/>
<line x1="268.4" y1="277.2" x2="268.4" y2="279.8" stroke="#1a1a1a" stroke-width="1.1"/>
<text x="250.25" y="181.5" font-size="7.4" text-anchor="middle" fill="#1a1a1a" stroke="#1a1a1a" stroke-width="0.32">IL-4</text>
<line x1="230.1" y1="186.2" x2="270" y2="186.2" stroke="#1a1a1a" stroke-width="1.3"/>
<line x1="238.6" y1="216.3" x2="258.7" y2="235.9" stroke="#27365A" stroke-width="1.2"/>
<line x1="238.6" y1="218.1" x2="258.7" y2="227" stroke="#A97A3A" stroke-width="1.2"/>
<line x1="238.6" y1="250.5" x2="258.7" y2="256.8" stroke="#A8CF8C" stroke-width="1.2"/>
<line x1="238.6" y1="251.5" x2="258.7" y2="258" stroke="#9890C0" stroke-width="1.2"/>
<line x1="238.6" y1="253.7" x2="258.7" y2="260.3" stroke="#8E1430" stroke-width="1.2"/>
<line x1="238.6" y1="257.7" x2="258.7" y2="263" stroke="#E39A2A" stroke-width="1.2"/>
<line x1="238.6" y1="259.4" x2="258.7" y2="266.5" stroke="#7FB5E0" stroke-width="1.2"/>
<line x1="238.6" y1="263.9" x2="258.7" y2="264.4" stroke="#C0206A" stroke-width="1.2"/>
<line x1="238.6" y1="272.2" x2="258.7" y2="272.8" stroke="#68A855" stroke-width="1.2"/>
<path d="M238.6 214.2L240.7 216.3L238.6 218.4L236.5 216.3Z" fill="#27365A"/>
<path d="M258.7 233.8L260.8 235.9L258.7 238L256.6 235.9Z" fill="#27365A"/>
<rect x="236.8" y="216.3" width="3.6" height="3.6" fill="#A97A3A"/>
<rect x="256.9" y="225.2" width="3.6" height="3.6" fill="#A97A3A"/>
<path d="M238.6 248.1L241 252.3L236.2 252.3Z" fill="#A8CF8C"/>
<path d="M258.7 254.4L261.1 258.6L256.3 258.6Z" fill="#A8CF8C"/>
<rect x="236.8" y="249.7" width="3.6" height="3.6" fill="#9890C0"/>
<rect x="256.9" y="256.2" width="3.6" height="3.6" fill="#9890C0"/>
<rect x="236.8" y="251.9" width="3.6" height="3.6" fill="#8E1430"/>
<rect x="256.9" y="258.5" width="3.6" height="3.6" fill="#8E1430"/>
<circle cx="238.6" cy="257.7" r="2" fill="#E39A2A"/>
<circle cx="258.7" cy="263" r="2" fill="#E39A2A"/>
<path d="M238.6 257L241 261.2L236.2 261.2Z" fill="#7FB5E0"/>
<path d="M258.7 264.1L261.1 268.3L256.3 268.3Z" fill="#7FB5E0"/>
<circle cx="238.6" cy="263.9" r="2" fill="#C0206A"/>
<circle cx="258.7" cy="264.4" r="2" fill="#C0206A"/>
<path d="M238.6 270.1L240.7 272.2L238.6 274.3L236.5 272.2Z" fill="#68A855"/>
<path d="M258.7 270.7L260.8 272.8L258.7 274.9L256.6 272.8Z" fill="#68A855"/>
<line x1="238.6" y1="239" x2="258.7" y2="247.9" stroke="#2E1B5A" stroke-width="1.1"/>
<line x1="238.6" y1="227" x2="238.6" y2="250" stroke="#221a33" stroke-width="1.0"/>
<line x1="237" y1="227" x2="240.2" y2="227" stroke="#221a33" stroke-width="1.1"/>
<line x1="237" y1="250" x2="240.2" y2="250" stroke="#221a33" stroke-width="1.1"/>
<line x1="258.7" y1="236" x2="258.7" y2="255" stroke="#221a33" stroke-width="1.0"/>
<line x1="257.1" y1="236" x2="260.3" y2="236" stroke="#221a33" stroke-width="1.1"/>
<line x1="257.1" y1="255" x2="260.3" y2="255" stroke="#221a33" stroke-width="1.1"/>
<circle cx="238.6" cy="239" r="2.1" fill="#2E1B5A"/>
<circle cx="258.7" cy="247.9" r="2.1" fill="#2E1B5A"/>
<circle cx="258.7" cy="220" r="1.05" fill="#111"/>
<text transform="translate(243.5,286.5) rotate(-45)" font-size="8.3" text-anchor="end" fill="#1a1a1a" stroke="#1a1a1a" stroke-width="0.32">Control siRNA</text>
<text transform="translate(263.2,286.5) rotate(-45)" font-size="8.3" text-anchor="end" fill="#1a1a1a" stroke="#1a1a1a" stroke-width="0.32">CXCR4 siRNA-1</text>
<line x1="305.6" y1="189.9" x2="305.6" y2="277.8" stroke="#1a1a1a" stroke-width="1.3"/>
<line x1="305" y1="277.2" x2="349.7" y2="277.2" stroke="#1a1a1a" stroke-width="1.4"/>
<line x1="302.6" y1="192.5" x2="305.6" y2="192.5" stroke="#1a1a1a" stroke-width="1"/>
<text x="298.8" y="195.3" font-size="7.9" text-anchor="end" fill="#1a1a1a" stroke="#1a1a1a" stroke-width="0.32">3200</text>
<line x1="302.6" y1="213.7" x2="305.6" y2="213.7" stroke="#1a1a1a" stroke-width="1"/>
<text x="298.8" y="216.5" font-size="7.9" text-anchor="end" fill="#1a1a1a" stroke="#1a1a1a" stroke-width="0.32">2400</text>
<line x1="302.6" y1="234.8" x2="305.6" y2="234.8" stroke="#1a1a1a" stroke-width="1"/>
<text x="298.8" y="237.6" font-size="7.9" text-anchor="end" fill="#1a1a1a" stroke="#1a1a1a" stroke-width="0.32">1600</text>
<line x1="302.6" y1="256" x2="305.6" y2="256" stroke="#1a1a1a" stroke-width="1"/>
<text x="298.8" y="258.8" font-size="7.9" text-anchor="end" fill="#1a1a1a" stroke="#1a1a1a" stroke-width="0.32">800</text>
<line x1="302.6" y1="277.2" x2="305.6" y2="277.2" stroke="#1a1a1a" stroke-width="1"/>
<text x="298.8" y="280" font-size="7.9" text-anchor="end" fill="#1a1a1a" stroke="#1a1a1a" stroke-width="0.32">0</text>
<line x1="326.05" y1="277.2" x2="326.05" y2="279.8" stroke="#1a1a1a" stroke-width="1.1"/>
<line x1="346.5" y1="277.2" x2="346.5" y2="279.8" stroke="#1a1a1a" stroke-width="1.1"/>
<text x="327.45" y="182.6" font-size="7.4" text-anchor="middle" fill="#1a1a1a" stroke="#1a1a1a" stroke-width="0.32">IL-10</text>
<line x1="308" y1="187.2" x2="347.4" y2="187.2" stroke="#1a1a1a" stroke-width="1.3"/>
<line x1="316.1" y1="198" x2="336.4" y2="232.7" stroke="#A97A3A" stroke-width="1.2"/>
<line x1="316.1" y1="230" x2="336.4" y2="253.7" stroke="#E39A2A" stroke-width="1.2"/>
<line x1="316.1" y1="232.4" x2="336.4" y2="232.7" stroke="#C0206A" stroke-width="1.2"/>
<line x1="316.1" y1="237.7" x2="336.4" y2="262.6" stroke="#68A855" stroke-width="1.2"/>
<line x1="316.1" y1="258" x2="336.4" y2="261.2" stroke="#9890C0" stroke-width="1.2"/>
<line x1="316.1" y1="259.8" x2="336.4" y2="268.3" stroke="#A8CF8C" stroke-width="1.2"/>
<line x1="316.1" y1="266.5" x2="336.4" y2="269.2" stroke="#7FB5E0" stroke-width="1.2"/>
<line x1="316.1" y1="268" x2="336.4" y2="271" stroke="#27365A" stroke-width="1.2"/>
<line x1="316.1" y1="270.1" x2="336.4" y2="273.3" stroke="#8E1430" stroke-width="1.2"/>
<rect x="314.3" y="196.2" width="3.6" height="3.6" fill="#A97A3A"/>
<rect x="334.6" y="230.9" width="3.6" height="3.6" fill="#A97A3A"/>
<circle cx="316.1" cy="230" r="2" fill="#E39A2A"/>
<circle cx="336.4" cy="253.7" r="2" fill="#E39A2A"/>
<circle cx="316.1" cy="232.4" r="2" fill="#C0206A"/>
<circle cx="336.4" cy="232.7" r="2" fill="#C0206A"/>
<path d="M316.1 235.6L318.2 237.7L316.1 239.8L314 237.7Z" fill="#68A855"/>
<path d="M336.4 260.5L338.5 262.6L336.4 264.7L334.3 262.6Z" fill="#68A855"/>
<rect x="314.3" y="256.2" width="3.6" height="3.6" fill="#9890C0"/>
<rect x="334.6" y="259.4" width="3.6" height="3.6" fill="#9890C0"/>
<path d="M316.1 257.4L318.5 261.6L313.7 261.6Z" fill="#A8CF8C"/>
<path d="M336.4 265.9L338.8 270.1L334 270.1Z" fill="#A8CF8C"/>
<path d="M316.1 264.1L318.5 268.3L313.7 268.3Z" fill="#7FB5E0"/>
<path d="M336.4 266.8L338.8 271L334 271Z" fill="#7FB5E0"/>
<path d="M316.1 265.9L318.2 268L316.1 270.1L314 268Z" fill="#27365A"/>
<path d="M336.4 268.9L338.5 271L336.4 273.1L334.3 271Z" fill="#27365A"/>
<rect x="314.3" y="268.3" width="3.6" height="3.6" fill="#8E1430"/>
<rect x="334.6" y="271.5" width="3.6" height="3.6" fill="#8E1430"/>
<line x1="316.1" y1="247" x2="336.4" y2="258" stroke="#2E1B5A" stroke-width="1.1"/>
<line x1="316.1" y1="238" x2="316.1" y2="255" stroke="#221a33" stroke-width="1.0"/>
<line x1="314.5" y1="238" x2="317.7" y2="238" stroke="#221a33" stroke-width="1.1"/>
<line x1="314.5" y1="255" x2="317.7" y2="255" stroke="#221a33" stroke-width="1.1"/>
<line x1="336.4" y1="253" x2="336.4" y2="263" stroke="#221a33" stroke-width="1.0"/>
<line x1="334.8" y1="253" x2="338" y2="253" stroke="#221a33" stroke-width="1.1"/>
<line x1="334.8" y1="263" x2="338" y2="263" stroke="#221a33" stroke-width="1.1"/>
<circle cx="316.1" cy="247" r="2.1" fill="#2E1B5A"/>
<circle cx="336.4" cy="258" r="2.1" fill="#2E1B5A"/>
<circle cx="336.4" cy="223" r="1.05" fill="#111"/>
<text transform="translate(321,286.5) rotate(-45)" font-size="8.3" text-anchor="end" fill="#1a1a1a" stroke="#1a1a1a" stroke-width="0.32">Control siRNA</text>
<text transform="translate(340.9,286.5) rotate(-45)" font-size="8.3" text-anchor="end" fill="#1a1a1a" stroke="#1a1a1a" stroke-width="0.32">CXCR4 siRNA-1</text>
<line x1="71.6" y1="356.4" x2="71.6" y2="444.9" stroke="#1a1a1a" stroke-width="1.3"/>
<line x1="71" y1="444.3" x2="114.9" y2="444.3" stroke="#1a1a1a" stroke-width="1.4"/>
<line x1="68.6" y1="359" x2="71.6" y2="359" stroke="#1a1a1a" stroke-width="1"/>
<text x="64.8" y="361.8" font-size="7.9" text-anchor="end" fill="#1a1a1a" stroke="#1a1a1a" stroke-width="0.32">24000</text>
<line x1="68.6" y1="387.5" x2="71.6" y2="387.5" stroke="#1a1a1a" stroke-width="1"/>
<text x="64.8" y="390.3" font-size="7.9" text-anchor="end" fill="#1a1a1a" stroke="#1a1a1a" stroke-width="0.32">16000</text>
<line x1="68.6" y1="416" x2="71.6" y2="416" stroke="#1a1a1a" stroke-width="1"/>
<text x="64.8" y="418.8" font-size="7.9" text-anchor="end" fill="#1a1a1a" stroke="#1a1a1a" stroke-width="0.32">8000</text>
<line x1="68.6" y1="444.3" x2="71.6" y2="444.3" stroke="#1a1a1a" stroke-width="1"/>
<text x="64.8" y="447.1" font-size="7.9" text-anchor="end" fill="#1a1a1a" stroke="#1a1a1a" stroke-width="0.32">0</text>
<line x1="91.65" y1="444.3" x2="91.65" y2="446.9" stroke="#1a1a1a" stroke-width="1.1"/>
<line x1="111.7" y1="444.3" x2="111.7" y2="446.9" stroke="#1a1a1a" stroke-width="1.1"/>
<text x="93.5" y="348.6" font-size="7.4" text-anchor="middle" fill="#1a1a1a" stroke="#1a1a1a" stroke-width="0.32">IL-2</text>
<line x1="73.7" y1="353.2" x2="113" y2="353.2" stroke="#1a1a1a" stroke-width="1.3"/>
<line x1="81" y1="365.7" x2="101.8" y2="375.7" stroke="#E39A2A" stroke-width="1.2"/>
<line x1="81" y1="404.3" x2="101.8" y2="410" stroke="#68A855" stroke-width="1.2"/>
<line x1="81" y1="409.6" x2="101.8" y2="414.8" stroke="#7FB5E0" stroke-width="1.2"/>
<line x1="81" y1="414.3" x2="101.8" y2="417" stroke="#8E1430" stroke-width="1.2"/>
<line x1="81" y1="427.4" x2="101.8" y2="434" stroke="#27365A" stroke-width="1.2"/>
<line x1="81" y1="430.2" x2="101.8" y2="435" stroke="#9890C0" stroke-width="1.2"/>
<line x1="81" y1="436.8" x2="101.8" y2="434" stroke="#A8CF8C" stroke-width="1.2"/>
<circle cx="81" cy="365.7" r="2" fill="#E39A2A"/>
<circle cx="101.8" cy="375.7" r="2" fill="#E39A2A"/>
<path d="M81 402.2L83.1 404.3L81 406.4L78.9 404.3Z" fill="#68A855"/>
<path d="M101.8 407.9L103.9 410L101.8 412.1L99.7 410Z" fill="#68A855"/>
<path d="M81 407.2L83.4 411.4L78.6 411.4Z" fill="#7FB5E0"/>
<path d="M101.8 412.4L104.2 416.6L99.4 416.6Z" fill="#7FB5E0"/>
<rect x="79.2" y="412.5" width="3.6" height="3.6" fill="#8E1430"/>
<rect x="100" y="415.2" width="3.6" height="3.6" fill="#8E1430"/>
<path d="M81 425.3L83.1 427.4L81 429.5L78.9 427.4Z" fill="#27365A"/>
<path d="M101.8 431.9L103.9 434L101.8 436.1L99.7 434Z" fill="#27365A"/>
<rect x="79.2" y="428.4" width="3.6" height="3.6" fill="#9890C0"/>
<rect x="100" y="433.2" width="3.6" height="3.6" fill="#9890C0"/>
<path d="M81 434.4L83.4 438.6L78.6 438.6Z" fill="#A8CF8C"/>
<path d="M101.8 431.6L104.2 435.8L99.4 435.8Z" fill="#A8CF8C"/>
<line x1="81" y1="411.4" x2="101.8" y2="417" stroke="#2E1B5A" stroke-width="1.1"/>
<line x1="81" y1="405" x2="81" y2="421.2" stroke="#221a33" stroke-width="1.0"/>
<line x1="79.4" y1="405" x2="82.6" y2="405" stroke="#221a33" stroke-width="1.1"/>
<line x1="79.4" y1="421.2" x2="82.6" y2="421.2" stroke="#221a33" stroke-width="1.1"/>
<line x1="101.8" y1="409.6" x2="101.8" y2="425.5" stroke="#221a33" stroke-width="1.0"/>
<line x1="100.2" y1="409.6" x2="103.4" y2="409.6" stroke="#221a33" stroke-width="1.1"/>
<line x1="100.2" y1="425.5" x2="103.4" y2="425.5" stroke="#221a33" stroke-width="1.1"/>
<circle cx="81" cy="411.4" r="2.1" fill="#2E1B5A"/>
<circle cx="101.8" cy="417" r="2.1" fill="#2E1B5A"/>
<circle cx="101.8" cy="401.7" r="1.05" fill="#111"/>
<text transform="translate(85.9,453.6) rotate(-45)" font-size="8.3" text-anchor="end" fill="#1a1a1a" stroke="#1a1a1a" stroke-width="0.32">Control siRNA</text>
<text transform="translate(106.3,453.6) rotate(-45)" font-size="8.3" text-anchor="end" fill="#1a1a1a" stroke="#1a1a1a" stroke-width="0.32">CXCR4 siRNA-2</text>
<line x1="152" y1="357.6" x2="152" y2="444.9" stroke="#1a1a1a" stroke-width="1.3"/>
<line x1="151.4" y1="444.3" x2="196" y2="444.3" stroke="#1a1a1a" stroke-width="1.4"/>
<line x1="149" y1="360.2" x2="152" y2="360.2" stroke="#1a1a1a" stroke-width="1"/>
<text x="145.8" y="363" font-size="7.9" text-anchor="end" fill="#1a1a1a" stroke="#1a1a1a" stroke-width="0.32">60000</text>
<line x1="149" y1="388.3" x2="152" y2="388.3" stroke="#1a1a1a" stroke-width="1"/>
<text x="145.8" y="391.1" font-size="7.9" text-anchor="end" fill="#1a1a1a" stroke="#1a1a1a" stroke-width="0.32">40000</text>
<line x1="149" y1="416.3" x2="152" y2="416.3" stroke="#1a1a1a" stroke-width="1"/>
<text x="145.8" y="419.1" font-size="7.9" text-anchor="end" fill="#1a1a1a" stroke="#1a1a1a" stroke-width="0.32">20000</text>
<line x1="149" y1="444.3" x2="152" y2="444.3" stroke="#1a1a1a" stroke-width="1"/>
<text x="145.8" y="447.1" font-size="7.9" text-anchor="end" fill="#1a1a1a" stroke="#1a1a1a" stroke-width="0.32">0</text>
<line x1="172.4" y1="444.3" x2="172.4" y2="446.9" stroke="#1a1a1a" stroke-width="1.1"/>
<line x1="192.8" y1="444.3" x2="192.8" y2="446.9" stroke="#1a1a1a" stroke-width="1.1"/>
<text x="174.2" y="349" font-size="7.4" text-anchor="middle" fill="#1a1a1a" stroke="#1a1a1a" stroke-width="0.32">IFN-&#947;</text>
<line x1="154.1" y1="353.9" x2="193.9" y2="353.9" stroke="#1a1a1a" stroke-width="1.3"/>
<line x1="162.2" y1="369.7" x2="182.4" y2="383.8" stroke="#E39A2A" stroke-width="1.2"/>
<line x1="162.2" y1="388.5" x2="182.4" y2="393.6" stroke="#7FB5E0" stroke-width="1.2"/>
<line x1="162.2" y1="408.6" x2="182.4" y2="403" stroke="#8E1430" stroke-width="1.2"/>
<line x1="162.2" y1="418" x2="182.4" y2="424.6" stroke="#9890C0" stroke-width="1.2"/>
<line x1="162.2" y1="420.5" x2="182.4" y2="426.1" stroke="#27365A" stroke-width="1.2"/>
<line x1="162.2" y1="426.1" x2="182.4" y2="427.4" stroke="#68A855" stroke-width="1.2"/>
<line x1="162.2" y1="431.2" x2="182.4" y2="415.6" stroke="#A8CF8C" stroke-width="1.2"/>
<circle cx="162.2" cy="369.7" r="2" fill="#E39A2A"/>
<circle cx="182.4" cy="383.8" r="2" fill="#E39A2A"/>
<path d="M162.2 386.1L164.6 390.3L159.8 390.3Z" fill="#7FB5E0"/>
<path d="M182.4 391.2L184.8 395.4L180 395.4Z" fill="#7FB5E0"/>
<rect x="160.4" y="406.8" width="3.6" height="3.6" fill="#8E1430"/>
<rect x="180.6" y="401.2" width="3.6" height="3.6" fill="#8E1430"/>
<rect x="160.4" y="416.2" width="3.6" height="3.6" fill="#9890C0"/>
<rect x="180.6" y="422.8" width="3.6" height="3.6" fill="#9890C0"/>
<path d="M162.2 418.4L164.3 420.5L162.2 422.6L160.1 420.5Z" fill="#27365A"/>
<path d="M182.4 424L184.5 426.1L182.4 428.2L180.3 426.1Z" fill="#27365A"/>
<path d="M162.2 424L164.3 426.1L162.2 428.2L160.1 426.1Z" fill="#68A855"/>
<path d="M182.4 425.3L184.5 427.4L182.4 429.5L180.3 427.4Z" fill="#68A855"/>
<path d="M162.2 428.8L164.6 433L159.8 433Z" fill="#A8CF8C"/>
<path d="M182.4 413.2L184.8 417.4L180 417.4Z" fill="#A8CF8C"/>
<line x1="162.2" y1="408" x2="182.4" y2="411" stroke="#2E1B5A" stroke-width="1.1"/>
<line x1="162.2" y1="400.1" x2="162.2" y2="416" stroke="#221a33" stroke-width="1.0"/>
<line x1="160.6" y1="400.1" x2="163.8" y2="400.1" stroke="#221a33" stroke-width="1.1"/>
<line x1="160.6" y1="416" x2="163.8" y2="416" stroke="#221a33" stroke-width="1.1"/>
<line x1="182.4" y1="405" x2="182.4" y2="417" stroke="#221a33" stroke-width="1.0"/>
<line x1="180.8" y1="405" x2="184" y2="405" stroke="#221a33" stroke-width="1.1"/>
<line x1="180.8" y1="417" x2="184" y2="417" stroke="#221a33" stroke-width="1.1"/>
<circle cx="162.2" cy="408" r="2.1" fill="#2E1B5A"/>
<circle cx="182.4" cy="411" r="2.1" fill="#2E1B5A"/>
<text transform="translate(167.1,453.6) rotate(-45)" font-size="8.3" text-anchor="end" fill="#1a1a1a" stroke="#1a1a1a" stroke-width="0.32">Control siRNA</text>
<text transform="translate(186.9,453.6) rotate(-45)" font-size="8.3" text-anchor="end" fill="#1a1a1a" stroke="#1a1a1a" stroke-width="0.32">CXCR4 siRNA-2</text>
<line x1="228.9" y1="357.6" x2="228.9" y2="444.9" stroke="#1a1a1a" stroke-width="1.3"/>
<line x1="228.3" y1="444.3" x2="272.2" y2="444.3" stroke="#1a1a1a" stroke-width="1.4"/>
<line x1="225.9" y1="360.2" x2="228.9" y2="360.2" stroke="#1a1a1a" stroke-width="1"/>
<text x="222.1" y="363" font-size="7.9" text-anchor="end" fill="#1a1a1a" stroke="#1a1a1a" stroke-width="0.32">300</text>
<line x1="225.9" y1="388.3" x2="228.9" y2="388.3" stroke="#1a1a1a" stroke-width="1"/>
<text x="222.1" y="391.1" font-size="7.9" text-anchor="end" fill="#1a1a1a" stroke="#1a1a1a" stroke-width="0.32">200</text>
<line x1="225.9" y1="416.3" x2="228.9" y2="416.3" stroke="#1a1a1a" stroke-width="1"/>
<text x="222.1" y="419.1" font-size="7.9" text-anchor="end" fill="#1a1a1a" stroke="#1a1a1a" stroke-width="0.32">100</text>
<line x1="225.9" y1="444.3" x2="228.9" y2="444.3" stroke="#1a1a1a" stroke-width="1"/>
<text x="222.1" y="447.1" font-size="7.9" text-anchor="end" fill="#1a1a1a" stroke="#1a1a1a" stroke-width="0.32">0</text>
<line x1="248.95" y1="444.3" x2="248.95" y2="446.9" stroke="#1a1a1a" stroke-width="1.1"/>
<line x1="269" y1="444.3" x2="269" y2="446.9" stroke="#1a1a1a" stroke-width="1.1"/>
<text x="250.45" y="349" font-size="7.4" text-anchor="middle" fill="#1a1a1a" stroke="#1a1a1a" stroke-width="0.32">IL-4</text>
<line x1="230.5" y1="353.9" x2="270.3" y2="353.9" stroke="#1a1a1a" stroke-width="1.3"/>
<line x1="238.9" y1="386" x2="260.4" y2="406.7" stroke="#7FB5E0" stroke-width="1.2"/>
<line x1="238.9" y1="388.5" x2="260.4" y2="397.9" stroke="#E39A2A" stroke-width="1.2"/>
<line x1="238.9" y1="423.7" x2="260.4" y2="431.2" stroke="#8E1430" stroke-width="1.2"/>
<line x1="238.9" y1="431.2" x2="260.4" y2="435.9" stroke="#9890C0" stroke-width="1.2"/>
<line x1="238.9" y1="428.4" x2="260.4" y2="436.3" stroke="#27365A" stroke-width="1.2"/>
<line x1="238.9" y1="440" x2="260.4" y2="440.6" stroke="#68A855" stroke-width="1.2"/>
<line x1="238.9" y1="439.3" x2="260.4" y2="439.3" stroke="#A8CF8C" stroke-width="1.2"/>
<path d="M238.9 383.6L241.3 387.8L236.5 387.8Z" fill="#7FB5E0"/>
<path d="M260.4 404.3L262.8 408.5L258 408.5Z" fill="#7FB5E0"/>
<circle cx="238.9" cy="388.5" r="2" fill="#E39A2A"/>
<circle cx="260.4" cy="397.9" r="2" fill="#E39A2A"/>
<rect x="237.1" y="421.9" width="3.6" height="3.6" fill="#8E1430"/>
<rect x="258.6" y="429.4" width="3.6" height="3.6" fill="#8E1430"/>
<rect x="237.1" y="429.4" width="3.6" height="3.6" fill="#9890C0"/>
<rect x="258.6" y="434.1" width="3.6" height="3.6" fill="#9890C0"/>
<path d="M238.9 426.3L241 428.4L238.9 430.5L236.8 428.4Z" fill="#27365A"/>
<path d="M260.4 434.2L262.5 436.3L260.4 438.4L258.3 436.3Z" fill="#27365A"/>
<path d="M238.9 437.9L241 440L238.9 442.1L236.8 440Z" fill="#68A855"/>
<path d="M260.4 438.5L262.5 440.6L260.4 442.7L258.3 440.6Z" fill="#68A855"/>
<path d="M238.9 436.9L241.3 441.1L236.5 441.1Z" fill="#A8CF8C"/>
<path d="M260.4 436.9L262.8 441.1L258 441.1Z" fill="#A8CF8C"/>
<line x1="238.9" y1="419.9" x2="260.4" y2="427.4" stroke="#2E1B5A" stroke-width="1.1"/>
<line x1="238.9" y1="411" x2="238.9" y2="428" stroke="#221a33" stroke-width="1.0"/>
<line x1="237.3" y1="411" x2="240.5" y2="411" stroke="#221a33" stroke-width="1.1"/>
<line x1="237.3" y1="428" x2="240.5" y2="428" stroke="#221a33" stroke-width="1.1"/>
<line x1="260.4" y1="421.2" x2="260.4" y2="433" stroke="#221a33" stroke-width="1.0"/>
<line x1="258.8" y1="421.2" x2="262" y2="421.2" stroke="#221a33" stroke-width="1.1"/>
<line x1="258.8" y1="433" x2="262" y2="433" stroke="#221a33" stroke-width="1.1"/>
<circle cx="238.9" cy="419.9" r="2.1" fill="#2E1B5A"/>
<circle cx="260.4" cy="427.4" r="2.1" fill="#2E1B5A"/>
<circle cx="260.4" cy="389.8" r="1.05" fill="#111"/>
<text transform="translate(243.8,453.6) rotate(-45)" font-size="8.3" text-anchor="end" fill="#1a1a1a" stroke="#1a1a1a" stroke-width="0.32">Control siRNA</text>
<text transform="translate(264.9,453.6) rotate(-45)" font-size="8.3" text-anchor="end" fill="#1a1a1a" stroke="#1a1a1a" stroke-width="0.32">CXCR4 siRNA-2</text>
<line x1="305.8" y1="360.3" x2="305.8" y2="444.9" stroke="#1a1a1a" stroke-width="1.3"/>
<line x1="305.2" y1="444.3" x2="349.9" y2="444.3" stroke="#1a1a1a" stroke-width="1.4"/>
<line x1="302.8" y1="362.9" x2="305.8" y2="362.9" stroke="#1a1a1a" stroke-width="1"/>
<text x="299" y="365.7" font-size="7.9" text-anchor="end" fill="#1a1a1a" stroke="#1a1a1a" stroke-width="0.32">3200</text>
<line x1="302.8" y1="383.3" x2="305.8" y2="383.3" stroke="#1a1a1a" stroke-width="1"/>
<text x="299" y="386.1" font-size="7.9" text-anchor="end" fill="#1a1a1a" stroke="#1a1a1a" stroke-width="0.32">2400</text>
<line x1="302.8" y1="403.6" x2="305.8" y2="403.6" stroke="#1a1a1a" stroke-width="1"/>
<text x="299" y="406.4" font-size="7.9" text-anchor="end" fill="#1a1a1a" stroke="#1a1a1a" stroke-width="0.32">1600</text>
<line x1="302.8" y1="424" x2="305.8" y2="424" stroke="#1a1a1a" stroke-width="1"/>
<text x="299" y="426.8" font-size="7.9" text-anchor="end" fill="#1a1a1a" stroke="#1a1a1a" stroke-width="0.32">800</text>
<line x1="302.8" y1="444.3" x2="305.8" y2="444.3" stroke="#1a1a1a" stroke-width="1"/>
<text x="299" y="447.1" font-size="7.9" text-anchor="end" fill="#1a1a1a" stroke="#1a1a1a" stroke-width="0.32">0</text>
<line x1="326.25" y1="444.3" x2="326.25" y2="446.9" stroke="#1a1a1a" stroke-width="1.1"/>
<line x1="346.7" y1="444.3" x2="346.7" y2="446.9" stroke="#1a1a1a" stroke-width="1.1"/>
<text x="327.65" y="351.4" font-size="7.4" text-anchor="middle" fill="#1a1a1a" stroke="#1a1a1a" stroke-width="0.32">IL-10</text>
<line x1="308" y1="356.3" x2="347.7" y2="356.3" stroke="#1a1a1a" stroke-width="1.3"/>
<line x1="315.7" y1="367.2" x2="336.4" y2="389.8" stroke="#7FB5E0" stroke-width="1.2"/>
<line x1="315.7" y1="397.9" x2="336.4" y2="404.5" stroke="#8E1430" stroke-width="1.2"/>
<line x1="315.7" y1="400.7" x2="336.4" y2="413.5" stroke="#9890C0" stroke-width="1.2"/>
<line x1="315.7" y1="402.5" x2="336.4" y2="408.2" stroke="#A8CF8C" stroke-width="1.2"/>
<line x1="315.7" y1="418.4" x2="336.4" y2="420.6" stroke="#E39A2A" stroke-width="1.2"/>
<line x1="315.7" y1="428" x2="336.4" y2="430.6" stroke="#68A855" stroke-width="1.2"/>
<line x1="315.7" y1="433" x2="336.4" y2="436.8" stroke="#27365A" stroke-width="1.2"/>
<path d="M315.7 364.8L318.1 369L313.3 369Z" fill="#7FB5E0"/>
<path d="M336.4 387.4L338.8 391.6L334 391.6Z" fill="#7FB5E0"/>
<rect x="313.9" y="396.1" width="3.6" height="3.6" fill="#8E1430"/>
<rect x="334.6" y="402.7" width="3.6" height="3.6" fill="#8E1430"/>
<rect x="313.9" y="398.9" width="3.6" height="3.6" fill="#9890C0"/>
<rect x="334.6" y="411.7" width="3.6" height="3.6" fill="#9890C0"/>
<path d="M315.7 400.1L318.1 404.3L313.3 404.3Z" fill="#A8CF8C"/>
<path d="M336.4 405.8L338.8 410L334 410Z" fill="#A8CF8C"/>
<circle cx="315.7" cy="418.4" r="2" fill="#E39A2A"/>
<circle cx="336.4" cy="420.6" r="2" fill="#E39A2A"/>
<path d="M315.7 425.9L317.8 428L315.7 430.1L313.6 428Z" fill="#68A855"/>
<path d="M336.4 428.5L338.5 430.6L336.4 432.7L334.3 430.6Z" fill="#68A855"/>
<path d="M315.7 430.9L317.8 433L315.7 435.1L313.6 433Z" fill="#27365A"/>
<path d="M336.4 434.7L338.5 436.8L336.4 438.9L334.3 436.8Z" fill="#27365A"/>
<line x1="315.7" y1="407.1" x2="336.4" y2="415.4" stroke="#2E1B5A" stroke-width="1.1"/>
<line x1="315.7" y1="401.4" x2="315.7" y2="416" stroke="#221a33" stroke-width="1.0"/>
<line x1="314.1" y1="401.4" x2="317.3" y2="401.4" stroke="#221a33" stroke-width="1.1"/>
<line x1="314.1" y1="416" x2="317.3" y2="416" stroke="#221a33" stroke-width="1.1"/>
<line x1="336.4" y1="410.7" x2="336.4" y2="418.2" stroke="#221a33" stroke-width="1.0"/>
<line x1="334.8" y1="410.7" x2="338" y2="410.7" stroke="#221a33" stroke-width="1.1"/>
<line x1="334.8" y1="418.2" x2="338" y2="418.2" stroke="#221a33" stroke-width="1.1"/>
<circle cx="315.7" cy="407.1" r="2.1" fill="#2E1B5A"/>
<circle cx="336.4" cy="415.4" r="2.1" fill="#2E1B5A"/>
<circle cx="336.4" cy="381.3" r="1.05" fill="#111"/>
<text transform="translate(320.6,453.6) rotate(-45)" font-size="8.3" text-anchor="end" fill="#1a1a1a" stroke="#1a1a1a" stroke-width="0.32">Control siRNA</text>
<text transform="translate(340.9,453.6) rotate(-45)" font-size="8.3" text-anchor="end" fill="#1a1a1a" stroke="#1a1a1a" stroke-width="0.32">CXCR4 siRNA-2</text>
<text transform="translate(25.3,234) rotate(-90)" font-size="8.9" text-anchor="middle" fill="#1a1a1a" stroke="#1a1a1a" stroke-width="0.32" textLength="78" lengthAdjust="spacingAndGlyphs">Cytokine production</text>
<text transform="translate(36.6,233.4) rotate(-90)" font-size="9.2" text-anchor="middle" fill="#1a1a1a" stroke="#1a1a1a" stroke-width="0.32" textLength="30.6" lengthAdjust="spacingAndGlyphs">(pg/ml)</text>
<text transform="translate(25.3,400.7) rotate(-90)" font-size="8.9" text-anchor="middle" fill="#1a1a1a" stroke="#1a1a1a" stroke-width="0.32" textLength="78" lengthAdjust="spacingAndGlyphs">Cytokine production</text>
<text transform="translate(36.6,400.1) rotate(-90)" font-size="9.2" text-anchor="middle" fill="#1a1a1a" stroke="#1a1a1a" stroke-width="0.32" textLength="30.6" lengthAdjust="spacingAndGlyphs">(pg/ml)</text>
<line x1="356.2" y1="180.9" x2="367.8" y2="180.9" stroke="#27365A" stroke-width="1.1"/>
<path d="M362 179.01L363.89 180.9L362 182.79L360.11 180.9Z" fill="#27365A"/>
<text x="371.6" y="183.5" font-size="7.5" fill="#1a1a1a" stroke="#1a1a1a" stroke-width="0.32">Donor 11</text>
<line x1="356.2" y1="192.36" x2="367.8" y2="192.36" stroke="#8E1430" stroke-width="1.1"/>
<rect x="360.38" y="190.74" width="3.24" height="3.24" fill="#8E1430"/>
<text x="371.6" y="194.96" font-size="7.5" fill="#1a1a1a" stroke="#1a1a1a" stroke-width="0.32">Donor 12</text>
<line x1="356.2" y1="203.82" x2="367.8" y2="203.82" stroke="#A8CF8C" stroke-width="1.1"/>
<path d="M362 201.66L364.16 205.44L359.84 205.44Z" fill="#A8CF8C"/>
<text x="371.6" y="206.42" font-size="7.5" fill="#1a1a1a" stroke="#1a1a1a" stroke-width="0.32">Donor 13</text>
<line x1="356.2" y1="215.28" x2="367.8" y2="215.28" stroke="#9890C0" stroke-width="1.1"/>
<rect x="360.38" y="213.66" width="3.24" height="3.24" fill="#9890C0"/>
<text x="371.6" y="217.88" font-size="7.5" fill="#1a1a1a" stroke="#1a1a1a" stroke-width="0.32">Donor 14</text>
<line x1="356.2" y1="226.74" x2="367.8" y2="226.74" stroke="#7FB5E0" stroke-width="1.1"/>
<path d="M362 224.58L364.16 228.36L359.84 228.36Z" fill="#7FB5E0"/>
<text x="371.6" y="229.34" font-size="7.5" fill="#1a1a1a" stroke="#1a1a1a" stroke-width="0.32">Donor 137</text>
<line x1="356.2" y1="238.2" x2="367.8" y2="238.2" stroke="#E39A2A" stroke-width="1.1"/>
<circle cx="362" cy="238.2" r="1.8" fill="#E39A2A"/>
<text x="371.6" y="240.8" font-size="7.5" fill="#1a1a1a" stroke="#1a1a1a" stroke-width="0.32">Donor 138</text>
<line x1="356.2" y1="249.66" x2="367.8" y2="249.66" stroke="#68A855" stroke-width="1.1"/>
<path d="M362 247.77L363.89 249.66L362 251.55L360.11 249.66Z" fill="#68A855"/>
<text x="371.6" y="252.26" font-size="7.5" fill="#1a1a1a" stroke="#1a1a1a" stroke-width="0.32">Donor 139</text>
<line x1="356.2" y1="261.12" x2="367.8" y2="261.12" stroke="#C0206A" stroke-width="1.1"/>
<circle cx="362" cy="261.12" r="1.8" fill="#C0206A"/>
<text x="371.6" y="263.72" font-size="7.5" fill="#1a1a1a" stroke="#1a1a1a" stroke-width="0.32">Donor 144</text>
<line x1="356.2" y1="272.58" x2="367.8" y2="272.58" stroke="#A97A3A" stroke-width="1.1"/>
<rect x="360.38" y="270.96" width="3.24" height="3.24" fill="#A97A3A"/>
<text x="371.6" y="275.18" font-size="7.5" fill="#1a1a1a" stroke="#1a1a1a" stroke-width="0.32">Donor 146</text>
<line x1="356.2" y1="284.04" x2="367.8" y2="284.04" stroke="#2E1B5A" stroke-width="1.1"/>
<circle cx="362" cy="284.04" r="1.8" fill="#2E1B5A"/>
<text x="371.6" y="286.64" font-size="7.5" fill="#1a1a1a" stroke="#1a1a1a" stroke-width="0.32">Average</text>
<line x1="356.2" y1="361.9" x2="367.8" y2="361.9" stroke="#27365A" stroke-width="1.1"/>
<path d="M362 360.01L363.89 361.9L362 363.79L360.11 361.9Z" fill="#27365A"/>
<text x="371.6" y="364.5" font-size="7.5" fill="#1a1a1a" stroke="#1a1a1a" stroke-width="0.32">Donor 137</text>
<line x1="356.2" y1="373.3" x2="367.8" y2="373.3" stroke="#8E1430" stroke-width="1.1"/>
<rect x="360.38" y="371.68" width="3.24" height="3.24" fill="#8E1430"/>
<text x="371.6" y="375.9" font-size="7.5" fill="#1a1a1a" stroke="#1a1a1a" stroke-width="0.32">Donor 138</text>
<line x1="356.2" y1="384.7" x2="367.8" y2="384.7" stroke="#A8CF8C" stroke-width="1.1"/>
<path d="M362 382.54L364.16 386.32L359.84 386.32Z" fill="#A8CF8C"/>
<text x="371.6" y="387.3" font-size="7.5" fill="#1a1a1a" stroke="#1a1a1a" stroke-width="0.32">Donor 139</text>
<line x1="356.2" y1="396.1" x2="367.8" y2="396.1" stroke="#9890C0" stroke-width="1.1"/>
<rect x="360.38" y="394.48" width="3.24" height="3.24" fill="#9890C0"/>
<text x="371.6" y="398.7" font-size="7.5" fill="#1a1a1a" stroke="#1a1a1a" stroke-width="0.32">Donor 144</text>
<line x1="356.2" y1="407.5" x2="367.8" y2="407.5" stroke="#7FB5E0" stroke-width="1.1"/>
<path d="M362 405.34L364.16 409.12L359.84 409.12Z" fill="#7FB5E0"/>
<text x="371.6" y="410.1" font-size="7.5" fill="#1a1a1a" stroke="#1a1a1a" stroke-width="0.32">Donor 146</text>
<line x1="356.2" y1="418.9" x2="367.8" y2="418.9" stroke="#E39A2A" stroke-width="1.1"/>
<circle cx="362" cy="418.9" r="1.8" fill="#E39A2A"/>
<text x="371.6" y="421.5" font-size="7.5" fill="#1a1a1a" stroke="#1a1a1a" stroke-width="0.32">Donor 168</text>
<line x1="356.2" y1="430.3" x2="367.8" y2="430.3" stroke="#68A855" stroke-width="1.1"/>
<path d="M362 428.41L363.89 430.3L362 432.19L360.11 430.3Z" fill="#68A855"/>
<text x="371.6" y="432.9" font-size="7.5" fill="#1a1a1a" stroke="#1a1a1a" stroke-width="0.32">Donor 169</text>
<line x1="356.2" y1="441.7" x2="367.8" y2="441.7" stroke="#2E1B5A" stroke-width="1.1"/>
<circle cx="362" cy="441.7" r="1.8" fill="#2E1B5A"/>
<text x="371.6" y="444.3" font-size="7.5" fill="#1a1a1a" stroke="#1a1a1a" stroke-width="0.32">Average</text>
<rect x="0.75" y="0.75" width="518.5" height="503.5" fill="none" stroke="#000" stroke-width="1.5"/>
</svg>
</body></html>
